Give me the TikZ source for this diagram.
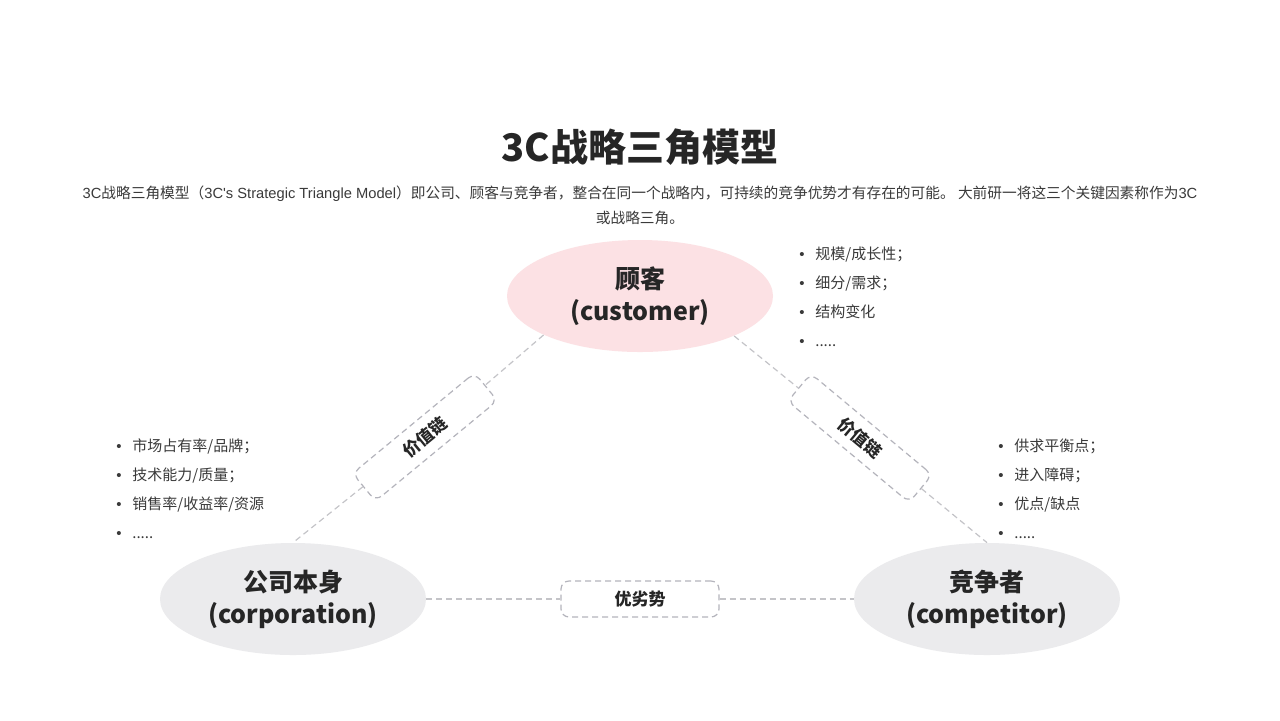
\documentclass[tikz,border=0pt]{standalone}
\usepackage{fontspec}
\setmainfont{Noto Sans CJK SC}
\newfontfamily\latinfont{Liberation Sans}
\usetikzlibrary{shapes.geometric}
\definecolor{inkdark}{HTML}{262626}
\definecolor{inktext}{HTML}{3A3A3A}
\definecolor{custpink}{HTML}{FCE1E4}
\definecolor{rolegray}{HTML}{EBEBED}
\definecolor{linegray}{HTML}{C4C4C8}
\definecolor{boxgray}{HTML}{B4B4BC}
\tikzset{
  role/.style={ellipse, inner sep=0pt, minimum width=133pt, minimum height=56pt,
    align=center, font=\fontsize{12.5pt}{16pt}\selectfont\bfseries, text=inkdark},
  link/.style={draw=linegray, dash pattern=on 3pt off 2pt, line width=0.6pt},
  tagbox/.style={draw=boxgray, dash pattern=on 3pt off 2pt, line width=0.6pt,
    rounded corners=4pt, minimum width=79pt, minimum height=18pt, fill=white,
    font=\fontsize{8.5pt}{10pt}\selectfont\bfseries, text=inkdark},
  pointline/.style={anchor=base west, inner sep=0pt,
    font=\fontsize{7.5pt}{9pt}\selectfont, text=inktext}
}
\newcommand{\dotitem}[1]{\makebox[8pt][l]{\latinfont •}#1}
\newcommand{\moredots}{.....}
\begin{document}
\begin{tikzpicture}[x=0.5pt, y=-0.5pt]
  \useasboundingbox[fill=white] (0,0) rectangle (1280,720);

  % 标题与说明
  \node[font=\fontsize{19pt}{22pt}\selectfont\bfseries, text=inkdark] (title) at (640,147) {3C战略三角模型};
  \node[font=\fontsize{7.35pt}{12.5pt}\selectfont, text=inktext, align=center] (intro) at (640,205)
    {{\latinfont 3C}战略三角模型（{\latinfont 3C's Strategic Triangle Model}）即公司、顾客与竞争者，整合在同一个战略内，可持续的竞争优势才有存在的可能。 大前研一将这三个关键因素称作为{\latinfont 3C}\\或战略三角。};

  % 三个角色
  \node[role, fill=custpink] (cust) at (640,296) {顾客\\(customer)};
  \node[role, fill=rolegray] (corp) at (293,599) {公司本身\\(corporation)};
  \node[role, fill=rolegray] (comp) at (987,599) {竞争者\\(competitor)};

  % 连线上的标签
  \node[tagbox, rotate=39.5] (chainL) at (425,437) {价值链};
  \node[tagbox, rotate=-39.8] (chainR) at (860,438) {价值链};
  \node[tagbox] (adv) at (640,599) {优劣势};

  \draw[link] (cust.202) -- (chainL) -- (corp.north);
  \draw[link] (cust.337) -- (chainR) -- (comp.north);
  \draw[link] (corp) -- (adv) -- (comp);

  % 要点列表
  \foreach \t [count=\i] in {规模/成长性；, 细分/需求；, 结构变化, \moredots}
    \node[pointline] (cust-p\i) at (799,{230+29*\i}) {\dotitem{\t}};
  \foreach \t [count=\i] in {市场占有率/品牌；, 技术能力/质量；, 销售率/收益率/资源, \moredots}
    \node[pointline] (corp-p\i) at (116,{422+29*\i}) {\dotitem{\t}};
  \foreach \t [count=\i] in {供求平衡点；, 进入障碍；, 优点/缺点, \moredots}
    \node[pointline] (comp-p\i) at (998,{422+29*\i}) {\dotitem{\t}};
\end{tikzpicture}
\end{document}
